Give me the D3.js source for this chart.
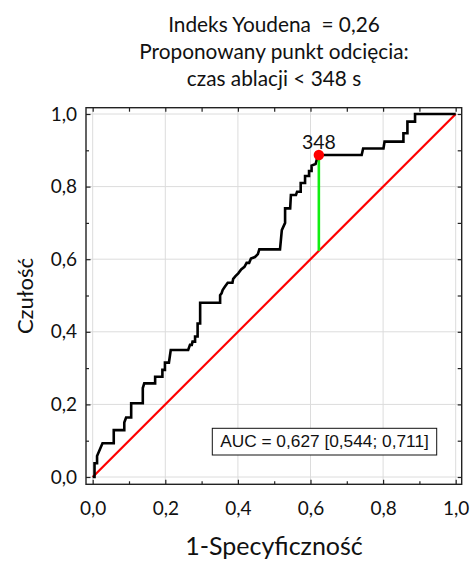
<!DOCTYPE html>
<html>
<head>
<meta charset="utf-8">
<script src="https://cdn.jsdelivr.net/npm/d3@7"></script>
<style>
  html, body { margin: 0; padding: 0; background: #fff; }
  svg { display: block; }
</style>
</head>
<body>
<svg id="chart" width="472" height="561"></svg>
<script>
// ROC curve points: false positive rate (1 - specificity) and sensitivity
const fpr = [0, 0.005, 0.005, 0.012, 0.012, 0.027, 0.058, 0.058, 0.087, 0.087, 0.092,
  0.106, 0.106, 0.138, 0.138, 0.142, 0.172, 0.172, 0.192, 0.192, 0.199, 0.199,
  0.210, 0.215, 0.263, 0.268, 0.273, 0.275, 0.282, 0.282, 0.289, 0.289, 0.296, 0.296,
  0.351, 0.351, 0.355, 0.358, 0.364, 0.372, 0.385, 0.387, 0.394, 0.401, 0.409, 0.418,
  0.424, 0.431, 0.436, 0.447, 0.455, 0.459, 0.516, 0.521, 0.530, 0.530, 0.544, 0.546,
  0.560, 0.563, 0.573, 0.573, 0.585, 0.585, 0.596, 0.596, 0.603, 0.603, 0.614, 0.617,
  0.620, 0.623, 0.741, 0.745, 0.801, 0.804, 0.856, 0.856, 0.867, 0.867, 0.888, 0.888, 1];
const tpr = [0, 0, 0.038, 0.038, 0.058, 0.093, 0.093, 0.129, 0.129, 0.150, 0.164,
  0.164, 0.203, 0.203, 0.245, 0.258, 0.258, 0.276, 0.276, 0.295, 0.295, 0.315,
  0.315, 0.350, 0.350, 0.364, 0.364, 0.373, 0.373, 0.387, 0.387, 0.423, 0.423, 0.480,
  0.480, 0.501, 0.506, 0.515, 0.524, 0.535, 0.535, 0.546, 0.554, 0.561, 0.572, 0.579,
  0.590, 0.590, 0.602, 0.606, 0.614, 0.627, 0.627, 0.680, 0.700, 0.740, 0.740, 0.777,
  0.777, 0.786, 0.786, 0.810, 0.810, 0.829, 0.829, 0.843, 0.843, 0.858, 0.862, 0.873,
  0.873, 0.887, 0.887, 0.905, 0.905, 0.924, 0.924, 0.947, 0.947, 0.979, 0.979, 1, 1];

// Proposed cut-off (Youden index maximum)
const cutLabel = "348";
const cutFpr = 0.623;
const cutTpr = 0.887;

const tickValues = [0, 0.2, 0.4, 0.6, 0.8, 1.0];
const minorTickValues = [0.1, 0.3, 0.5, 0.7, 0.9];

const titleLines = ["Indeks Youdena  = 0,26", "Proponowany punkt odcięcia:", "czas ablacji < 348 s"];
const xTitle = "1-Specyficzność";
const yTitle = "Czułość";
const aucText = "AUC = 0,627 [0,544; 0,711]";

const svg = d3.select("#chart");
const FONT = "Lato, 'Open Sans', sans-serif";

// plot geometry
const frame = { left: 86, right: 461.7, top: 107.7, bottom: 484.3 };
const x = d3.scaleLinear().domain([0, 1]).range([92.7, 455.7]);
const y = d3.scaleLinear().domain([0, 1]).range([477, 114]);

const plLocale = d3.formatLocale({ decimal: ",", thousands: " ", grouping: [3], currency: ["", " zł"] });
const fmt = plLocale.format(".1f");

// grid lines
const grid = svg.append("g").attr("stroke", "#dcdcdc").attr("stroke-width", 1);
grid.selectAll(".gx").data(tickValues).join("line")
  .attr("x1", d => x(d)).attr("x2", d => x(d))
  .attr("y1", frame.top).attr("y2", frame.bottom);
grid.selectAll(".gy").data(tickValues).join("line")
  .attr("y1", d => y(d)).attr("y2", d => y(d))
  .attr("x1", frame.left).attr("x2", frame.right);

// frame ticks on all four sides (pointing inward)
function styleAxis(g) {
  g.select(".domain").remove();
  g.selectAll(".tick line").attr("stroke", "#222").attr("stroke-width", 1.2);
  g.selectAll("text").attr("font-family", FONT).attr("font-size", 19).attr("fill", "#111");
}
svg.append("g").attr("transform", `translate(0,${frame.bottom})`)
  .call(d3.axisBottom(x).tickValues(tickValues).tickFormat(fmt).tickSizeInner(-4.5).tickSizeOuter(0).tickPadding(17))
  .call(styleAxis);
svg.append("g").attr("transform", `translate(0,${frame.bottom})`)
  .call(d3.axisBottom(x).tickValues(minorTickValues).tickFormat("").tickSizeInner(-3).tickSizeOuter(0))
  .call(styleAxis);
svg.append("g").attr("transform", `translate(0,${frame.top})`)
  .call(d3.axisTop(x).tickValues(tickValues.concat(minorTickValues)).tickFormat("").tickSizeInner(-4).tickSizeOuter(0))
  .call(styleAxis);
svg.append("g").attr("transform", `translate(${frame.left},0)`)
  .call(d3.axisLeft(y).tickValues(tickValues).tickFormat(fmt).tickSizeInner(-4.5).tickSizeOuter(0).tickPadding(9))
  .call(styleAxis);
svg.append("g").attr("transform", `translate(${frame.left},0)`)
  .call(d3.axisLeft(y).tickValues(minorTickValues).tickFormat("").tickSizeInner(-3).tickSizeOuter(0))
  .call(styleAxis);
svg.append("g").attr("transform", `translate(${frame.right},0)`)
  .call(d3.axisRight(y).tickValues(tickValues.concat(minorTickValues)).tickFormat("").tickSizeInner(-4).tickSizeOuter(0))
  .call(styleAxis);

// frame
svg.append("rect")
  .attr("x", frame.left).attr("y", frame.top)
  .attr("width", frame.right - frame.left).attr("height", frame.bottom - frame.top)
  .attr("fill", "none").attr("stroke", "#222").attr("stroke-width", 1.4);

// reference diagonal
svg.append("line")
  .attr("x1", x(0)).attr("y1", y(0)).attr("x2", x(1)).attr("y2", y(1))
  .attr("stroke", "#ff0000").attr("stroke-width", 2.2);

// ROC curve
const rocPoints = fpr.map((f, i) => [f, tpr[i]]);
svg.append("path")
  .datum(rocPoints)
  .attr("d", d3.line().x(d => x(d[0])).y(d => y(d[1])))
  .attr("fill", "none").attr("stroke", "#000").attr("stroke-width", 2.6)
  .attr("stroke-linejoin", "miter");

// Youden segment and cut-off point
svg.append("line")
  .attr("x1", x(cutFpr)).attr("x2", x(cutFpr))
  .attr("y1", y(cutFpr)).attr("y2", y(cutTpr))
  .attr("stroke", "#11ee11").attr("stroke-width", 2.6);
svg.append("circle")
  .attr("cx", x(cutFpr)).attr("cy", y(cutTpr)).attr("r", 5.2)
  .attr("fill", "#ff0000");
svg.append("text")
  .attr("x", x(cutFpr)).attr("y", y(cutTpr) - 6)
  .attr("text-anchor", "middle")
  .attr("font-family", FONT).attr("font-size", 19.5).attr("fill", "#111")
  .text(cutLabel);

// AUC box
const aucG = svg.append("g");
aucG.append("rect")
  .attr("x", 212.3).attr("y", 428.3).attr("width", 224.4).attr("height", 26.7)
  .attr("fill", "#fff").attr("stroke", "#111").attr("stroke-width", 1);
aucG.append("text")
  .attr("x", 324.5).attr("y", 446.8).attr("text-anchor", "middle")
  .attr("font-family", "'Liberation Sans', Arial, sans-serif").attr("font-size", 17.3)
  .attr("fill", "#111")
  .text(aucText);

// titles
svg.append("g").selectAll("text").data(titleLines).join("text")
  .attr("x", 274).attr("y", (d, i) => 31.7 + i * 27.2)
  .attr("text-anchor", "middle")
  .attr("font-family", FONT).attr("font-size", 20.8).attr("fill", "#111")
  .style("white-space", "pre")
  .text(d => d);

svg.append("text")
  .attr("x", 274).attr("y", 555)
  .attr("text-anchor", "middle")
  .attr("font-family", FONT).attr("font-size", 25).attr("fill", "#111")
  .text(xTitle);

svg.append("text")
  .attr("transform", `translate(33,296) rotate(-90)`)
  .attr("text-anchor", "middle")
  .attr("font-family", FONT).attr("font-size", 22).attr("fill", "#111")
  .text(yTitle);
</script>
</body>
</html>
